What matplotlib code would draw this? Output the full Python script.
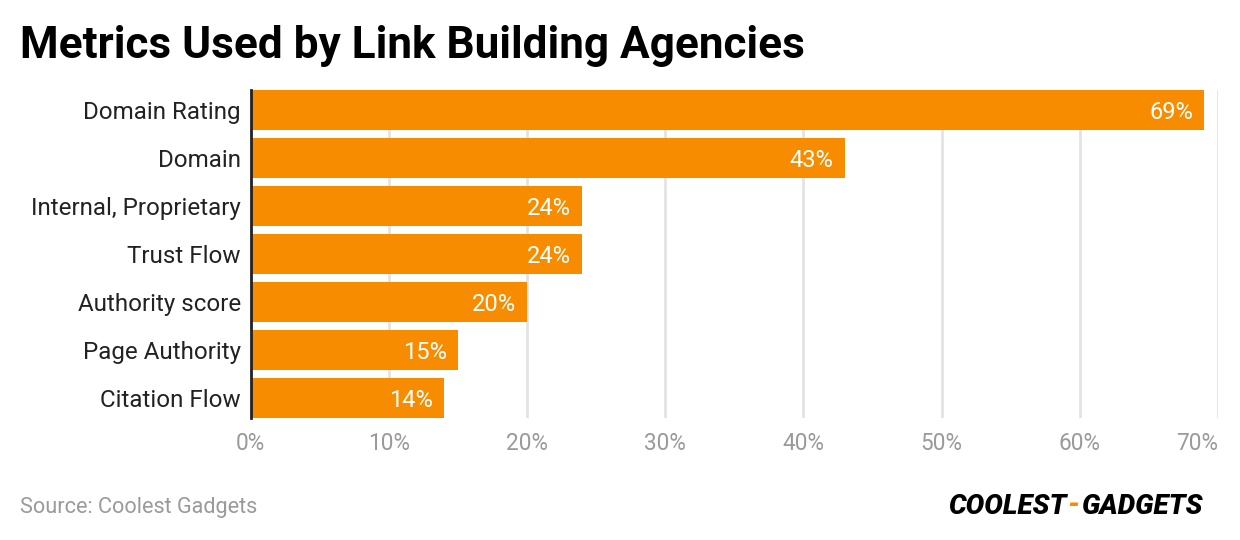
import matplotlib
matplotlib.use("Agg")
import matplotlib.pyplot as plt
from matplotlib.ticker import FuncFormatter

categories = ["Domain Rating", "Domain", "Internal, Proprietary", "Trust Flow",
              "Authority score", "Page Authority", "Citation Flow"]
values = [69, 43, 24, 24, 20, 15, 14]
xticks = [0, 10, 20, 30, 40, 50, 60, 70]

BAR = "#F88C00"
plt.rcParams['font.family'] = ['Roboto', 'DejaVu Sans']

fig = plt.figure(figsize=(12.4, 5.4), dpi=100)
ax = fig.add_axes([250.5 / 1240, 1 - 418 / 540, (1218 - 250.5) / 1240, (418 - 90) / 540])

h = 40 / 48
y = list(range(len(categories)))
ax.barh(y, values, height=h, color=BAR, zorder=2)
ax.set_ylim(len(categories) - 1 + h / 2, -h / 2)
ax.set_xlim(0, 70)
ax.set_yticks(y)
ax.set_yticklabels(categories, fontsize=17.4, color="#222222")
ax.set_xticks(xticks)
ax.xaxis.set_major_formatter(FuncFormatter(lambda v, p: f"{v:.0f}%"))
ax.tick_params(axis='x', labelsize=16.3, labelcolor="#9a9a9a", length=0, pad=10)
ax.tick_params(axis='y', length=0, pad=7)
ax.grid(axis='x', color="#e3e3e3", linewidth=2, zorder=0)
for s in ["top", "right", "bottom"]:
    ax.spines[s].set_visible(False)
ax.spines["left"].set_color("#222222")
ax.spines["left"].set_linewidth(2)
ax.spines["left"].set_zorder(3)
labs = ax.get_xticklabels()
labs[-1].set_horizontalalignment("right")
labs[-1].set_x(70)

for yi, v in zip(y, values):
    ax.annotate(f"{v}%", xy=(v, yi), xytext=(-8, 0), textcoords="offset points",
                ha="right", va="center_baseline", color="white", fontsize=17)

fig.text(20 / 1240, 1 - 46 / 540, "Metrics Used by Link Building Agencies",
         fontsize=31.8, fontweight="bold", color="black", va="center", ha="left")
fig.text(20 / 1240, 1 - 507 / 540, "Source: Coolest Gadgets",
         fontsize=15.6, color="#9a9a9a", va="center", ha="left")

# logo
fig.canvas.draw()
r = fig.canvas.get_renderer()
x0 = 948 / 1240
yl = 1 - 506 / 540
parts = [("COOLEST", "black"), ("-", BAR), ("GADGETS", "black")]
for txt, col in parts:
    t = fig.text(x0, yl, txt, fontsize=20, fontweight="black", fontstyle="italic",
                 color=col, va="center", ha="left", family=["Roboto", "DejaVu Sans"])
    bb = t.get_window_extent(renderer=r)
    x0 += (bb.width + 1) / 1240

fig.savefig("out.png", dpi=100)
